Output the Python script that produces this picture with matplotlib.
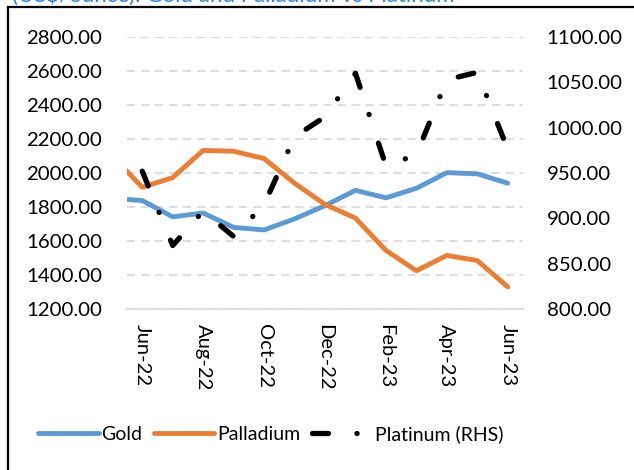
import numpy as np
import matplotlib
matplotlib.use('Agg')
import matplotlib.pyplot as plt
from matplotlib.lines import Line2D

plt.rcParams['font.family'] = ['Lato', 'DejaVu Sans']
plt.rcParams['lines.scale_dashes'] = False

# monthly prices, US$/ounce (May-22 point only partly shown at the left edge)
months_gp = ['May-22', 'Jun-22', 'Jul-22', 'Aug-22', 'Sep-22', 'Oct-22', 'Nov-22',
             'Dec-22', 'Jan-23', 'Feb-23', 'Mar-23', 'Apr-23', 'May-23', 'Jun-23']
gold      = [1850, 1838, 1742, 1765, 1680, 1665, 1730, 1808, 1898, 1854, 1910, 2002, 1995, 1940]
palladium = [2104, 1916, 1973, 2133, 2128, 2085, 1940, 1815, 1735, 1545, 1425, 1515, 1485, 1330]
months_pt = months_gp[1:]
platinum  = [952, 870, 908, 880, 915, 990, 1012, 1060, 958, 970, 1053, 1061, 976]

tick_labels = ['Jun-22', 'Aug-22', 'Oct-22', 'Dec-22', 'Feb-23', 'Apr-23', 'Jun-23']
title = '(US$/ounce): Gold and Palladium vs Platinum'

W, H = 634, 470
fig = plt.figure(figsize=(W / 100, H / 100), dpi=100)
ax = fig.add_axes([127 / W, 1 - 309 / H, 396 / W, 272 / H])
ax2 = ax.twinx()

xg = np.arange(len(months_gp)) - 1
xp = np.arange(len(months_pt))

l1, = ax.plot(xg, gold, color='#5B9BD5', lw=3.5, solid_joinstyle='round',
              solid_capstyle='round', label='Gold')
l2, = ax.plot(xg, palladium, color='#ED7D31', lw=3.5, solid_joinstyle='round',
              solid_capstyle='round', label='Palladium')
l3, = ax2.plot(xp, platinum, color='black', lw=3.8,
               linestyle=(0, (11.5, 20.5, 0.1, 21.6)),
               dash_capstyle='round', label='Platinum (RHS)')

ax.set_xlim(-0.5, 12.5)
ax.set_ylim(1200, 2800)
ax2.set_ylim(800, 1100)

ax.set_yticks(np.arange(1200, 2801, 200))
ax.set_yticklabels(['%.2f' % v for v in np.arange(1200, 2801, 200)])
ax2.set_yticks(np.arange(800, 1101, 50))
ax2.set_yticklabels(['%.2f' % v for v in np.arange(800, 1101, 50)])
ax.set_xticks(range(0, 13, 2))
ax.set_xticklabels(tick_labels, rotation=-90, ha='center', va='top')

ax.tick_params(axis='y', length=0, pad=18, labelsize=14.7)
ax2.tick_params(axis='y', length=0, pad=17, labelsize=14.7)
ax.tick_params(axis='x', length=0, pad=11, labelsize=14.5)

for a in (ax, ax2):
    for s in a.spines.values():
        s.set_visible(False)
ax.spines['bottom'].set_visible(True)
ax.spines['bottom'].set_color('#D9DDE4')
ax.spines['bottom'].set_linewidth(1.5)

ax.yaxis.grid(True, color='#D9DDE4', lw=1.5, linestyle=(0, (5.8, 4.3)))
ax.set_axisbelow(True)

fig.legend(handles=[l1, l2, l3], loc='center', bbox_to_anchor=(271 / W, 1 - 434 / H),
           ncol=3, frameon=False, fontsize=14, handlelength=3.1,
           handletextpad=0.15, columnspacing=0.6)

# chart frame, cut off at the right and bottom
fig.add_artist(Line2D([8 / W, 1.0], [1 - 7 / H, 1 - 7 / H], transform=fig.transFigure,
                      color='black', lw=1.6))
fig.add_artist(Line2D([8 / W, 8 / W], [0.0, 1 - 7 / H], transform=fig.transFigure,
                      color='black', lw=1.6))

# title sits mostly above the crop, only its lower edge shows
fig.text(12 / W, 1 - 1.5 / H, title, color='#2E86D6', fontsize=16, va='baseline', ha='left')

fig.savefig('out.png', dpi=100)
